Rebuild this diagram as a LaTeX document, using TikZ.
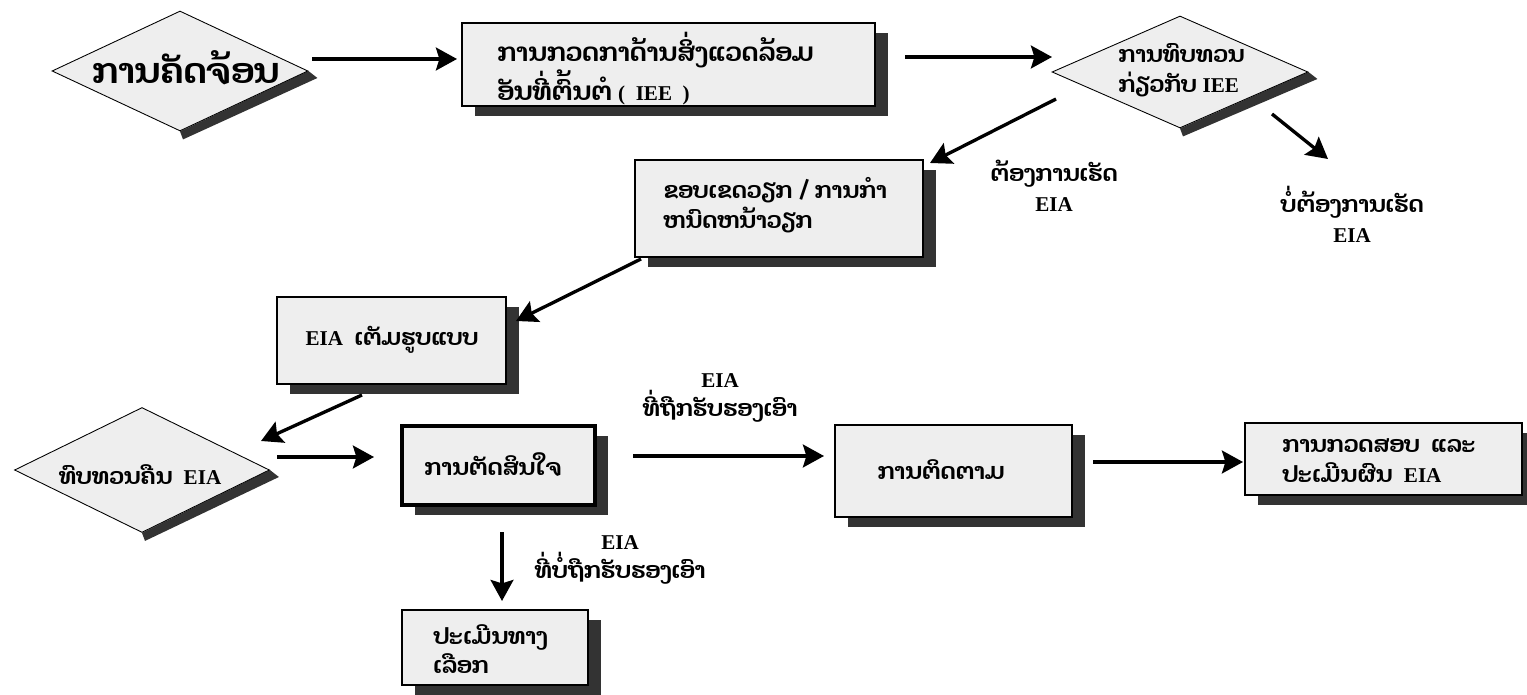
\documentclass[tikz,border=0pt]{standalone}
\usepackage{fontspec}
\setmainfont{Liberation Serif}
\newfontfamily\lao[Script=Lao]{Dhyana}
\usetikzlibrary{arrows.meta,shapes.geometric,shadows,backgrounds}
\definecolor{boxgray}{HTML}{EEEEEE}
\definecolor{shadowgray}{HTML}{333333}
\newcommand\lat[1]{{\rmfamily\bfseries\fontsize{12}{14}\selectfont #1}}
\tikzset{
  box/.style={draw=black, line width=0.8pt, fill=boxgray, inner sep=0pt,
    drop shadow={shadow xshift=0.26cm, shadow yshift=-0.2cm, fill=shadowgray, opacity=1}},
  dia/.style={diamond, draw=black, line width=0.5pt, fill=boxgray, inner sep=0pt},
  arr/.style={line width=1.9pt, -{Stealth[length=12pt,width=13pt,inset=2pt]}},
  txt/.style={inner sep=0pt, font=\lao\bfseries\fontsize{13}{17}\selectfont, align=left},
  txtb/.style={txt, font=\lao\bfseries\fontsize{14.5}{18.7}\selectfont},
  big/.style={inner sep=0pt, font=\lao\bfseries\fontsize{20}{24}\selectfont},
  dshadow/.style={fill=shadowgray},
}
\begin{document}
\begin{tikzpicture}[x=0.02cm,y=-0.02cm]
\useasboundingbox (0,0) rectangle (1527,695);

% diamonds
\node[dia, minimum width=5.12cm, minimum height=2.4cm] (d1) at (180,71) {};
\node[dia, minimum width=5.12cm, minimum height=2.24cm] (d3) at (1180,72) {};
\node[dia, minimum width=5.1cm, minimum height=2.5cm] (d8) at (142,470) {};
\begin{pgfonlayer}{background}
  \foreach \d in {d1,d3,d8}{
    \fill[dshadow] (\d.east) -- ([shift={(9,7)}]\d.east) -- ([shift={(3,8)}]\d.south) -- (\d.south) -- cycle;
  }
\end{pgfonlayer}

% boxes
\node[box, minimum width=8.26cm, minimum height=1.66cm] (b2) at (668.5,64.5) {};
\node[box, minimum width=5.76cm, minimum height=1.94cm] (b6) at (779,208.5) {};
\node[box, minimum width=4.58cm, minimum height=1.74cm] (b7) at (391.5,340.5) {};
\node[box, line width=2pt, minimum width=3.86cm, minimum height=1.58cm] (b9) at (498.5,465.5) {};
\node[box, minimum width=4.74cm, minimum height=1.84cm] (b11) at (953.5,471) {};
\node[box, minimum width=5.54cm, minimum height=1.44cm] (b12) at (1383.5,459) {};
\node[box, minimum width=3.72cm, minimum height=1.5cm] (b14) at (495,647.5) {};

% texts
\node[big] (t1) at (186,68) {ການຄັດຈ້ອນ};
\node[txtb, anchor=west] (t2) at (497,68.5) {ການກວດກາດ້ານສິ່ງແວດລ້ອມ\\ອັນທີ່ຕົ້ນຕໍ \lat{(\enspace IEE\enspace)}};
\node[txt, anchor=west] (t3) at (1118,70) {ການທົບທວນ\\ກ່ຽວກັບ \lat{IEE}};
\node[txt, anchor=west] (t6) at (663,205) {ຂອບເຂດວຽກ / ການກໍາ\\ຫນົດຫນ້າວຽກ};
\node[txt] (t7) at (392,340) {\lat{EIA}\enspace ເຕັມຮູບແບບ};
\node[txt] (t8) at (140,475) {ທົບທວນຄືນ\enspace\lat{EIA}};
\node[txt] (t9) at (493,465) {ການຕັດສິນໃຈ};
\node[txt] (t11) at (941,470) {ການຕິດຕາມ};
\node[txt, anchor=west] (t12) at (1282,461) {ການກວດສອບ\enspace ແລະ\\ປະເມີນຜົນ\enspace\lat{EIA}};
\node[txt, anchor=west] (t14) at (433,649) {ປະເມີນທາງ\\ເລືອກ};

% connector labels
\node[txt, align=center] (l1) at (1054,186) {ຕ້ອງການເຮັດ\\\lat{EIA}};
\node[txt, align=center] (l2) at (1352,214) {ບໍ່ຕ້ອງການເຮັດ\\\lat{EIA}};
\node[txt, align=center] (l3) at (720,398) {\lat{EIA}\\ທີ່ຖືກຮັບຮອງເອົາ};
\node[txt, align=center] (l4) at (620,560) {\lat{EIA}\\ທີ່ບໍ່ຖືກຮັບຮອງເອົາ};

% connector ends
\coordinate (a1s) at (312,59);   \coordinate (a1e) at (457,59);
\coordinate (a2s) at (905,57);   \coordinate (a2e) at (1052,57);
\coordinate (a3s) at (1056,99);  \coordinate (a3e) at (930,163);
\coordinate (a4s) at (1272,114); \coordinate (a4e) at (1328,159);
\coordinate (a5s) at (641,259);  \coordinate (a5e) at (516,321);
\coordinate (a6s) at (362,395);  \coordinate (a6e) at (261,441);
\coordinate (a7s) at (277,457);  \coordinate (a7e) at (374,457);
\coordinate (a8s) at (633,456);  \coordinate (a8e) at (824,456);
\coordinate (a9s) at (1093,462); \coordinate (a9e) at (1243,462);
\coordinate (a10s) at (502,532); \coordinate (a10e) at (502,601);

\draw[arr] (a1s) -- (a1e);
\draw[arr] (a2s) -- (a2e);
\draw[arr] (a3s) -- (a3e);
\draw[arr] (a4s) -- (a4e);
\draw[arr] (a5s) -- (a5e);
\draw[arr] (a6s) -- (a6e);
\draw[arr] (a7s) -- (a7e);
\draw[arr] (a8s) -- (a8e);
\draw[arr] (a9s) -- (a9e);
\draw[arr] (a10s) -- (a10e);
\end{tikzpicture}
\end{document}
